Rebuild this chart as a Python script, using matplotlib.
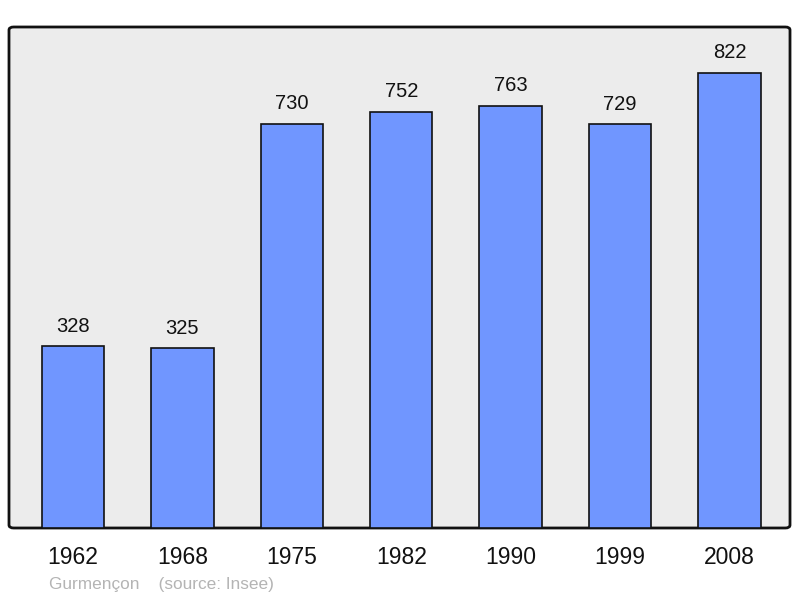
import matplotlib
matplotlib.use('Agg')
import matplotlib.pyplot as plt
from matplotlib.patches import FancyBboxPatch

years = ['1962', '1968', '1975', '1982', '1990', '1999', '2008']
population = [328, 325, 730, 752, 763, 729, 822]
footer = 'Gurmençon    (source: Insee)'

plt.rcParams['font.family'] = ['Liberation Sans', 'DejaVu Sans']

fig = plt.figure(figsize=(8, 5.98), dpi=100)
ax = fig.add_axes([9 / 800, 70 / 598, 781 / 800, 501 / 598])
ax.set_xlim(-0.585, 6.553)
ax.set_ylim(0, 905)
ax.axis('off')

# rounded grey panel behind the bars
panel = FancyBboxPatch((0, 0), 1, 1, boxstyle='round,pad=0,rounding_size=0.006',
                       transform=ax.transAxes, facecolor='#ececec',
                       edgecolor='#111111', linewidth=2, zorder=0, clip_on=False)
ax.add_patch(panel)

x = range(len(years))
ax.bar(x, population, width=0.57, color='#7096ff', edgecolor='#111111',
       linewidth=1.2, zorder=2)

for i, v in enumerate(population):
    ax.annotate(str(v), (i, v), xytext=(0, 20), textcoords='offset pixels',
                ha='center', va='center', fontsize=14.5, color='#111111')

for i, y in enumerate(years):
    ax.annotate(y, (i, 0), xytext=(0, -30), textcoords='offset pixels',
                ha='center', va='center', fontsize=16.5, color='#111111',
                annotation_clip=False)

fig.text(49 / 800, 1 - 585 / 598, footer, ha='left', va='center',
         fontsize=12.4, color='#b4b4b4')

fig.savefig('out.png', dpi=100)
